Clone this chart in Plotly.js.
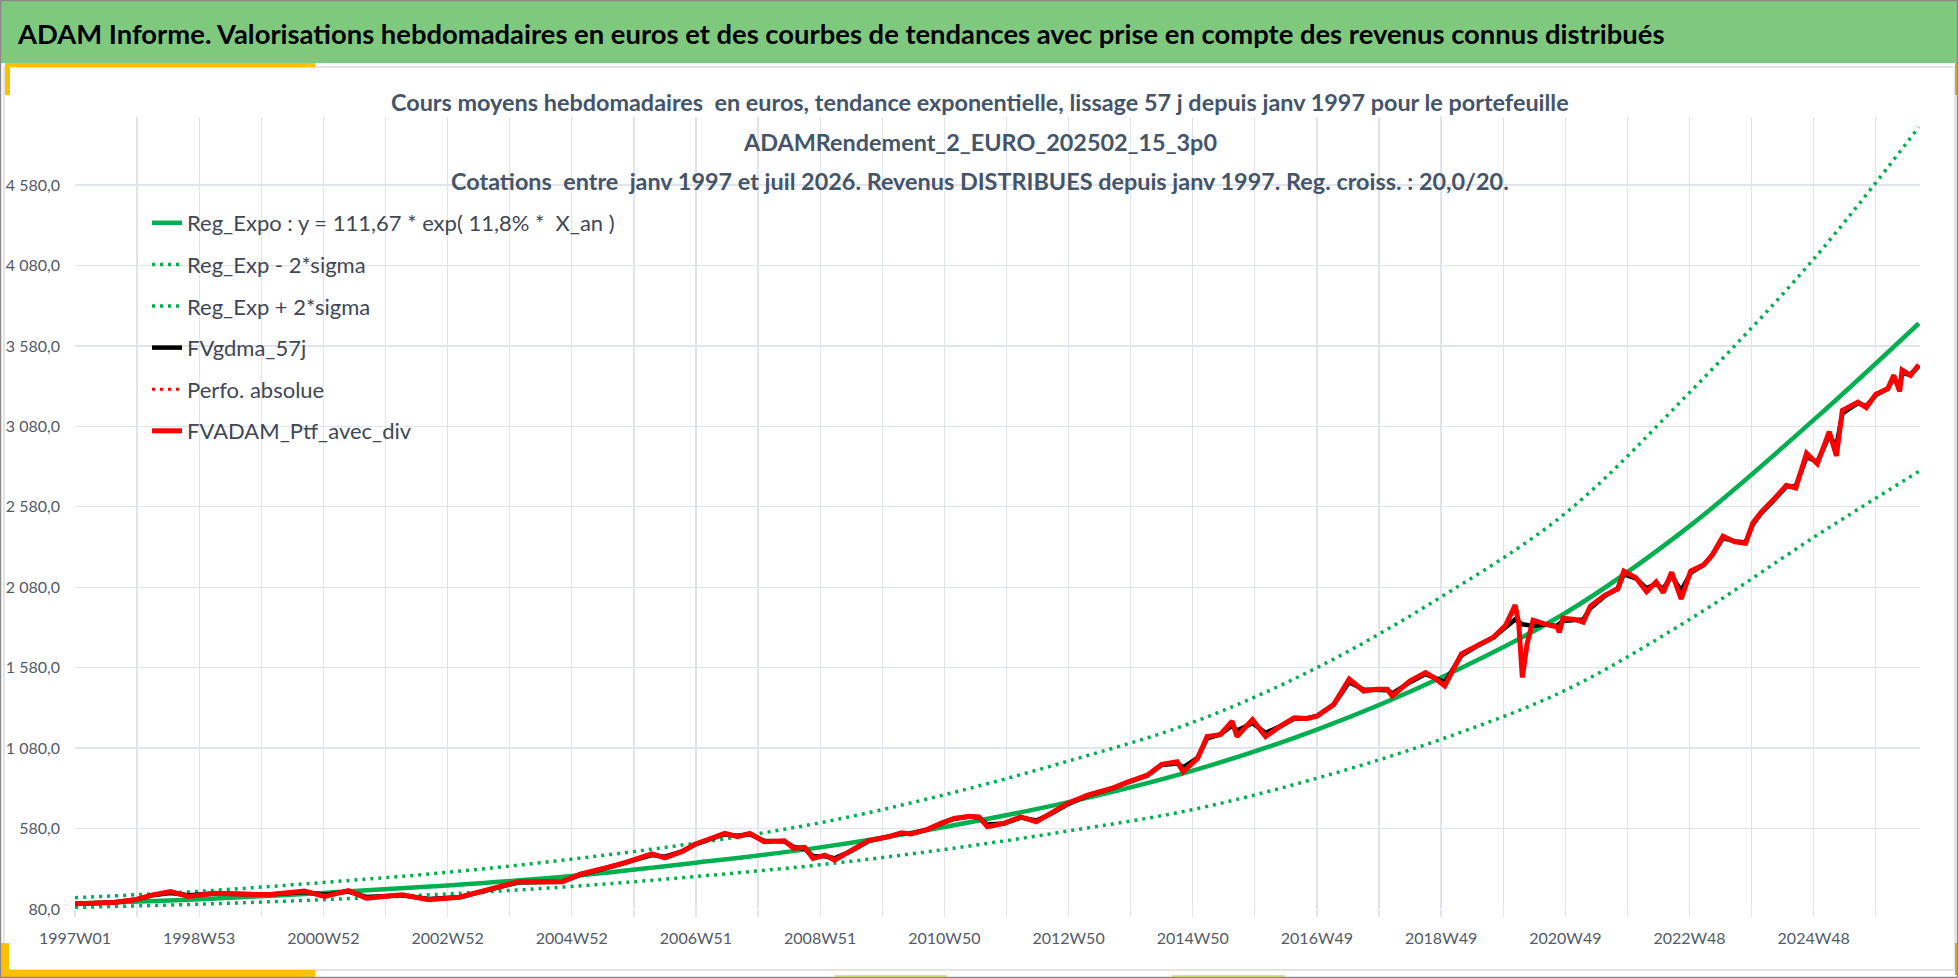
<!DOCTYPE html>
<html>
<head>
<meta charset="utf-8">
<script src="https://cdn.plot.ly/plotly-3.0.1.min.js"></script>
<style>
  html, body { margin: 0; padding: 0; background: #fff; }
  #chart { width: 1958px; height: 978px; }
</style>
</head>
<body>
<div id="chart"></div>
<script>
// x axis: week index since 1997W01, one label every 104 weeks
var xLabels = ['1997W01','1998W53','2000W52','2002W52','2004W52','2006W51','2008W51',
               '2010W50','2012W50','2014W50','2016W49','2018W49','2020W49','2022W48','2024W48'];
var yTicks = [80, 580, 1080, 1580, 2080, 2580, 3080, 3580, 4080, 4580];

// FVADAM_Ptf_avec_div
var ptfWeek = [
  0,32,50,65,80,95,117,144,162,192,
  209,229,244,274,296,322,349,371,408,423,
  445,460,483,494,509,519,530,544,555,565,
  577,594,602,611,618,628,636,650,664,681,
  692,700,714,725,736,749,757,764,778,792,
  805,817,831,848,857,868,882,898,910,923,
  928,940,948,959,969,973,986,997,1009,1021,
  1032,1040,1054,1067,1079,1090,1099,1103,1118,1131,
  1138,1147,1161,1174,1188,1198,1206,1209,1212,1216,
  1221,1230,1241,1243,1246,1256,1263,1269,1281,1292,
  1297,1307,1316,1324,1330,1337,1345,1353,1364,1371,
  1380,1390,1399,1405,1412,1423,1433,1441,1450,1459,
  1469,1475,1480,1493,1500,1508,1518,1523,1528,1530,
  1537,1544];
var ptfValue = [
  113,121,137,168,188,158,178,174,168,192,
  158,194,147,168,137,153,209,249,249,296,
  337,366,423,398,439,483,512,550,529,550,
  498,504,457,463,394,415,384,446,504,529,
  554,546,575,612,643,657,653,591,612,653,
  622,674,736,788,808,829,870,912,979,995,
  933,1016,1152,1163,1247,1152,1257,1152,1215,1268,
  1264,1278,1351,1509,1435,1446,1446,1404,1498,1550,
  1519,1467,1666,1718,1770,1844,1969,1854,1519,1729,
  1875,1854,1833,1800,1887,1880,1863,1963,2030,2070,
  2180,2140,2053,2113,2047,2173,2007,2180,2220,2280,
  2397,2363,2353,2480,2547,2630,2713,2697,2913,2847,
  3047,2897,3180,3230,3197,3280,3313,3397,3297,3430,
  3397,3463];

// FVgdma_57j (smoothed curve, mostly hidden under the red one)
var gdmaWeek = [
  0,32,50,65,80,95,117,144,162,192,
  209,229,244,274,296,322,349,371,408,423,
  445,460,483,494,509,519,530,544,555,565,
  577,594,602,611,618,628,636,650,664,681,
  692,700,714,725,736,749,757,764,778,792,
  805,817,831,848,857,868,882,898,910,923,
  928,940,948,959,969,973,986,997,1009,1021,
  1032,1040,1054,1067,1079,1090,1099,1103,1118,1131,
  1138,1147,1161,1174,1188,1198,1206,1212,1221,1230,
  1241,1246,1256,1263,1269,1281,1292,1297,1307,1316,
  1324,1330,1337,1345,1353,1364,1371,1380,1390,1399,
  1405,1412,1423,1433,1441,1450,1459,1469,1475,1480,
  1493,1500,1508,1518,1523,1528,1530,1537,1544];
var gdmaValue = [
  113,121,137,165,180,165,177,174,170,185,
  168,188,155,165,142,153,205,245,250,292,
  335,366,415,405,440,480,510,545,535,545,
  505,500,465,455,410,408,395,440,500,528,
  550,548,575,610,640,655,648,605,612,648,
  630,670,730,785,805,828,868,910,975,985,
  960,1020,1140,1165,1220,1190,1235,1175,1215,1262,
  1266,1280,1350,1490,1445,1445,1440,1420,1490,1540,
  1520,1490,1655,1715,1770,1835,1880,1850,1840,1850,
  1840,1870,1875,1880,1950,2025,2075,2160,2135,2075,
  2100,2070,2150,2060,2170,2220,2280,2385,2365,2360,
  2470,2540,2625,2705,2710,2890,2860,3020,2960,3160,
  3225,3205,3275,3315,3380,3330,3410,3400,3455];

// exponential trend and +/- 2 sigma bands
var trendWeek = [0,104,208,312,416,520,624,728,832,936,1040,1144,1248,1352,1456,1544];
var trendMid  = [112,140,180,226,285,368,463,590,744,940,1195,1519,1920,2460,3120,3720];
var trendLow  = [90,110,138,174,220,282,355,450,565,698,893,1135,1440,1880,2390,2800];
var trendHigh = [150,190,245,308,390,490,616,790,1000,1240,1580,2020,2540,3290,4120,4940];

var W = 1958, H = 978;
var L = 75, R = 1920, T = 117, B = 909;
function px(x) { return (x - L) / (R - L); }
function py(y) { return (B - y) / (B - T); }

var tickVals = [], tickText = [];
xLabels.forEach(function (lab, i) {
  tickVals.push(i * 104); tickText.push(lab);
  tickVals.push(i * 104 + 52); tickText.push('');
});

var green = '#00b050', red = '#ff0000';
var dotDash = '3px,5px';

var traces = [
  { x: trendWeek, y: trendMid, name: 'Reg_Expo : y = 111,67 * exp( 11,8% *  X_an )',
    mode: 'lines', line: { color: green, width: 4.5, shape: 'spline' }, legendgroup: 'a' },
  { x: trendWeek, y: trendLow, name: 'Reg_Exp - 2*sigma',
    mode: 'lines', line: { color: green, width: 3.5, dash: dotDash, shape: 'spline' }, legendgroup: 'b' },
  { x: trendWeek, y: trendHigh, name: 'Reg_Exp + 2*sigma',
    mode: 'lines', line: { color: green, width: 3.5, dash: dotDash, shape: 'spline' }, legendgroup: 'c' },
  { x: gdmaWeek, y: gdmaValue, name: 'FVgdma_57j',
    mode: 'lines', line: { color: '#000000', width: 4.5 }, legendgroup: 'd' },
  { x: ptfWeek, y: ptfValue, name: 'Perfo. absolue',
    mode: 'lines', line: { color: red, width: 3, dash: dotDash }, legendgroup: 'e' },
  { x: ptfWeek, y: ptfValue, name: 'FVADAM_Ptf_avec_div',
    mode: 'lines', line: { color: red, width: 5 }, legendgroup: 'f' }
];

var yellow = '#ffc000';
var shapes = [
  // header band
  { type: 'rect', xref: 'paper', yref: 'paper', x0: px(0), x1: px(W), y0: py(63), y1: py(0),
    fillcolor: '#7fc97f', line: { width: 0 }, layer: 'below' },
  // chart area frame
  { type: 'rect', xref: 'paper', yref: 'paper', x0: px(4), x1: px(1955), y0: py(970), y1: py(67),
    line: { color: '#e2e4e8', width: 2 }, layer: 'below' },
  // yellow corners
  { type: 'rect', xref: 'paper', yref: 'paper', x0: px(6), x1: px(315), y0: py(67), y1: py(63),
    fillcolor: yellow, line: { width: 0 } },
  { type: 'rect', xref: 'paper', yref: 'paper', x0: px(5), x1: px(10), y0: py(95), y1: py(63),
    fillcolor: yellow, line: { width: 0 } },
  { type: 'rect', xref: 'paper', yref: 'paper', x0: px(0), x1: px(315), y0: py(977), y1: py(970),
    fillcolor: yellow, line: { width: 0 } },
  { type: 'rect', xref: 'paper', yref: 'paper', x0: px(0), x1: px(9), y0: py(977), y1: py(943),
    fillcolor: yellow, line: { width: 0 } },
  { type: 'rect', xref: 'paper', yref: 'paper', x0: px(1955), x1: px(1958), y0: py(95), y1: py(63),
    fillcolor: '#d9b200', line: { width: 0 } },
  { type: 'rect', xref: 'paper', yref: 'paper', x0: px(1955), x1: px(1958), y0: py(975), y1: py(943),
    fillcolor: '#d9b200', line: { width: 0 } },
  { type: 'rect', xref: 'paper', yref: 'paper', x0: px(835), x1: px(947), y0: py(978), y1: py(975),
    fillcolor: '#e8e26a', line: { width: 0 } },
  { type: 'rect', xref: 'paper', yref: 'paper', x0: px(1172), x1: px(1285), y0: py(978), y1: py(975),
    fillcolor: '#e8e26a', line: { width: 0 } },
  // outer border
  { type: 'rect', xref: 'paper', yref: 'paper', x0: px(0.5), x1: px(W - 0.5), y0: py(H - 0.5), y1: py(0.5),
    line: { color: '#8a8a8a', width: 1.5 } }
];

var titleFont = { family: 'Lato, sans-serif', size: 23.4, color: '#44546a', weight: 700 };
var annotations = [
  { xref: 'paper', yref: 'paper', x: px(15), y: py(33), xanchor: 'left', yanchor: 'middle',
    showarrow: false,
    text: 'ADAM Informe. Valorisations hebdomadaires en euros et des courbes de tendances avec prise en compte des revenus connus distribués',
    font: { family: 'Lato, sans-serif', size: 27.4, color: '#000000', weight: 700 } },
  { xref: 'paper', yref: 'paper', x: px(980), y: py(102), xanchor: 'center', yanchor: 'middle', showarrow: false,
    text: 'Cours moyens hebdomadaires  en euros, tendance exponentielle, lissage 57 j depuis janv 1997 pour le portefeuille',
    font: titleFont },
  { xref: 'paper', yref: 'paper', x: px(980), y: py(142), xanchor: 'center', yanchor: 'middle', showarrow: false,
    text: 'ADAMRendement_2_EURO_202502_15_3p0', font: titleFont },
  { xref: 'paper', yref: 'paper', x: px(980), y: py(181), xanchor: 'center', yanchor: 'middle', showarrow: false,
    text: 'Cotations  entre  janv 1997 et juil 2026. Revenus DISTRIBUES depuis janv 1997. Reg. croiss. : 20,0/20.',
    font: titleFont }
];

var gridColor = '#e1e4ea';
var layout = {
  width: W, height: H,
  margin: { l: L, r: W - R, t: T, b: H - B, pad: 0 },
  paper_bgcolor: '#ffffff', plot_bgcolor: '#ffffff',
  separators: ', ',
  font: { family: 'Lato, sans-serif', color: '#525a66' },
  showlegend: true,
  legend: {
    x: px(147), y: py(202), xanchor: 'left', yanchor: 'top',
    bgcolor: 'rgba(0,0,0,0)', borderwidth: 0,
    traceorder: 'grouped', tracegroupgap: 10,
    font: { family: 'Lato, sans-serif', size: 22, color: '#3f4756' }
  },
  xaxis: {
    range: [0, 1545], showgrid: true, gridcolor: gridColor, gridwidth: 1.3,
    zeroline: false, showline: false,
    tickmode: 'array', tickvals: tickVals, ticktext: tickText,
    ticks: 'outside', ticklen: 7, tickcolor: gridColor, tickwidth: 1.3,
    ticklabelstandoff: 8,
    tickfont: { family: 'Lato, sans-serif', size: 16, color: '#525a66' }
  },
  yaxis: {
    range: [80, 5003], showgrid: true, gridcolor: gridColor, gridwidth: 1.3,
    zeroline: false, showline: false,
    tickmode: 'array', tickvals: yTicks, tickformat: ',.1f',
    ticks: '', ticklabelstandoff: 14,
    tickfont: { family: 'Lato, sans-serif', size: 16, color: '#525a66' }
  },
  shapes: shapes,
  annotations: annotations
};

Plotly.newPlot('chart', traces, layout, { displayModeBar: false, staticPlot: true });
</script>
</body>
</html>
